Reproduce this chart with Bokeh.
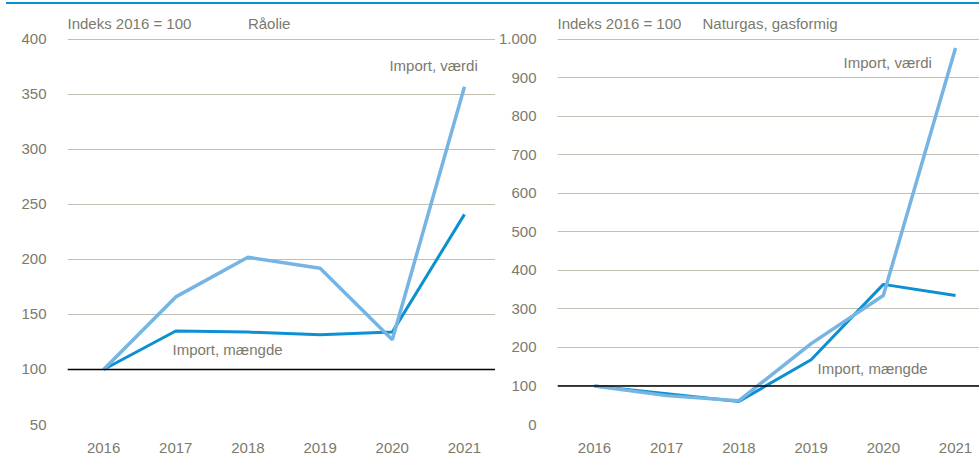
from bokeh.plotting import figure
from bokeh.models import FixedTicker, Span, Div, Range1d
from bokeh.layouts import row, column
from bokeh.core.properties import value
from bokeh.embed import file_html
from bokeh.resources import INLINE

years = [2016, 2017, 2018, 2019, 2020, 2021]

# Råolie (Indeks 2016 = 100)
olie_vaerdi = [100, 166, 202, 192, 127, 357]
olie_maengde = [100, 135, 134, 131.5, 134, 241]

# Naturgas, gasformig (Indeks 2016 = 100)
gas_vaerdi = [100, 75, 62, 210, 335, 978]
gas_maengde = [100, 80, 60, 168, 364, 335]

olie_ticks = [50, 100, 150, 200, 250, 300, 350, 400]
gas_ticks = [0, 100, 200, 300, 400, 500, 600, 700, 800, 900, 1000]
gas_tick_labels = {1000: "1.000"}

TXT = "#7b7a6c"
GRID = "#c2c0b5"
DARK = "#0c90d1"
LIGHT = "#76b5e3"
FONT = "Liberation Sans"


def make_fig(width, border_left, x_range, y_range, ticks):
    p = figure(width=width, height=451, output_backend="svg", toolbar_location=None,
               x_range=x_range, y_range=y_range,
               min_border_left=border_left, min_border_right=0,
               min_border_top=0, min_border_bottom=31)
    p.outline_line_color = None
    p.background_fill_color = "white"
    p.border_fill_color = "white"
    p.xgrid.grid_line_color = None
    p.ygrid.grid_line_color = GRID
    p.ygrid.grid_line_width = 1
    p.yaxis.ticker = FixedTicker(ticks=ticks)
    p.xaxis.ticker = FixedTicker(ticks=years)
    for ax in (p.xaxis[0], p.yaxis[0]):
        ax.axis_line_color = None
        ax.major_tick_line_color = None
        ax.minor_tick_line_color = None
        ax.major_label_text_color = TXT
        ax.major_label_text_font = FONT
        ax.major_label_text_font_size = "15px"
    p.yaxis.major_label_standoff = 15
    p.xaxis.major_label_standoff = 12
    p.add_layout(Span(location=100, dimension="width", line_color="black", line_width=1.5))
    return p


def txt(p, x, y, s):
    p.text(x=[x], y=[y], text=[s], text_color=TXT, text_font=value(FONT),
           text_font_size="15px", text_baseline="middle", text_align="left")


# Left panel
p1 = make_fig(495, 67, Range1d(2015.5, 2021.43), Range1d(50, 431.8), olie_ticks)
p1.line(years, olie_maengde, line_color=DARK, line_width=3)
p1.line(years, olie_vaerdi, line_color=LIGHT, line_width=3.5)
txt(p1, 2015.5, 414.5, "Indeks 2016 = 100")
txt(p1, 2018.0, 414.5, "Råolie")
txt(p1, 2019.96, 376.4, "Import, værdi")
txt(p1, 2016.955, 118.2, "Import, mængde")

# Right panel
p2 = make_fig(484, 62, Range1d(2015.4875, 2021.332), Range1d(0, 1090.9), gas_ticks)
p2.yaxis.major_label_overrides = gas_tick_labels
p2.line(years, gas_maengde, line_color=DARK, line_width=3)
p2.line(years, gas_vaerdi, line_color=LIGHT, line_width=3.5)
txt(p2, 2015.4875, 1041.6, "Indeks 2016 = 100")
txt(p2, 2017.496, 1041.6, "Naturgas, gasformig")
txt(p2, 2019.449, 940.3, "Import, værdi")
txt(p2, 2019.089, 145.5, "Import, mængde")

topline = Div(text="", width=973, height=2, margin=(2, 0, 0, 6),
              styles={"background-color": "#0a8fd0"})

layout = column(topline, row(p1, p2, spacing=0), spacing=0)

open("out.html", "w").write(file_html(layout, INLINE))
